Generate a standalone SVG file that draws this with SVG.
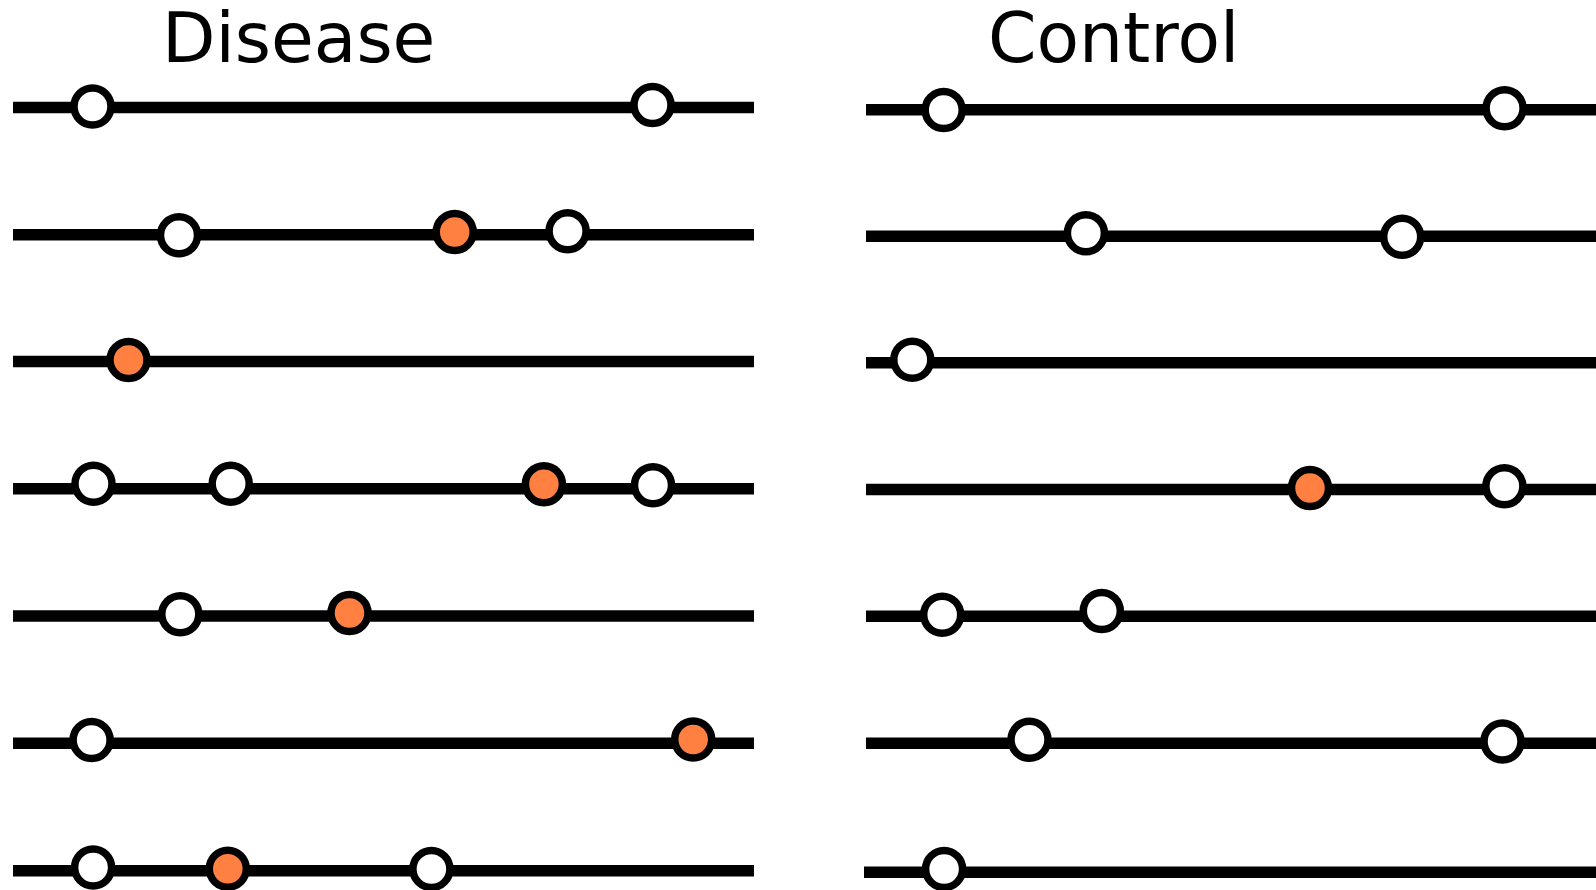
<svg xmlns="http://www.w3.org/2000/svg" width="1596" height="890" viewBox="0 0 1596 890">
  <style>
    .title { font-family: "DejaVu Sans", Verdana, sans-serif; font-size: 69.5px; fill: #000; }
    .strand { stroke: #000; stroke-width: 11.5; fill: none; }
    .site { stroke: #000; stroke-width: 7.5; fill: #fff; }
    .site.hit { fill: #FF8040; }
  </style>
  <rect width="1596" height="890" fill="#fff"/>

  <g id="title-disease"><text class="title" x="162" y="61.5">Disease</text></g>
  <g id="title-control"><text class="title" x="988" y="61.5">Control</text></g>

  <!-- sequence strands -->
  <g id="connectors">
    <line class="strand" x1="13" y1="107.5" x2="754" y2="107.5"/>
    <line class="strand" x1="13" y1="234.8" x2="754" y2="234.8"/>
    <line class="strand" x1="13" y1="361.5" x2="754" y2="361.5"/>
    <line class="strand" x1="13" y1="488.8" x2="754" y2="488.8"/>
    <line class="strand" x1="13" y1="616" x2="754" y2="616"/>
    <line class="strand" x1="13" y1="743.3" x2="754" y2="743.3"/>
    <line class="strand" x1="13" y1="870.8" x2="754" y2="870.8"/>

    <line class="strand" x1="866" y1="109.7" x2="1596" y2="109.7"/>
    <line class="strand" x1="866" y1="236.2" x2="1596" y2="236.2"/>
    <line class="strand" x1="866" y1="362.8" x2="1596" y2="362.8"/>
    <line class="strand" x1="866" y1="489.5" x2="1596" y2="489.5"/>
    <line class="strand" x1="866" y1="616.3" x2="1596" y2="616.3"/>
    <line class="strand" x1="866" y1="743.3" x2="1596" y2="743.3"/>
    <line class="strand" x1="864" y1="872.2" x2="1596" y2="872.2"/>
  </g>

  <!-- disease sites -->
  <g id="d1">
    <circle class="site" cx="92.5" cy="106.5" r="18.5"/>
    <circle class="site" cx="652.5" cy="105" r="18.5"/>
  </g>
  <g id="d2">
    <circle class="site" cx="179" cy="235.2" r="18.5"/>
    <circle class="site hit" cx="454.7" cy="232" r="18.5"/>
    <circle class="site" cx="567.6" cy="231.3" r="18.5"/>
  </g>
  <g id="d3">
    <circle class="site hit" cx="128.5" cy="360" r="18.5"/>
  </g>
  <g id="d4">
    <circle class="site" cx="93.5" cy="483.7" r="18.5"/>
    <circle class="site" cx="230.7" cy="483.7" r="18.5"/>
    <circle class="site hit" cx="543.9" cy="484.2" r="18.5"/>
    <circle class="site" cx="653" cy="485.2" r="18.5"/>
  </g>
  <g id="d5">
    <circle class="site" cx="180.3" cy="614.3" r="18.5"/>
    <circle class="site hit" cx="349.5" cy="613" r="18.5"/>
  </g>
  <g id="d6">
    <circle class="site" cx="91.6" cy="740" r="18.5"/>
    <circle class="site hit" cx="693.2" cy="739.5" r="18.5"/>
  </g>
  <g id="d7">
    <circle class="site" cx="93.1" cy="867.5" r="18.5"/>
    <circle class="site hit" cx="227.8" cy="868.7" r="18.5"/>
    <circle class="site" cx="431.4" cy="869" r="18.5"/>
  </g>

  <!-- control sites -->
  <g id="c1">
    <circle class="site" cx="943.7" cy="110" r="18.5"/>
    <circle class="site" cx="1504.6" cy="108.3" r="18.5"/>
  </g>
  <g id="c2">
    <circle class="site" cx="1085.9" cy="233.3" r="18.5"/>
    <circle class="site" cx="1402.2" cy="236.8" r="18.5"/>
  </g>
  <g id="c3">
    <circle class="site" cx="912.3" cy="359.7" r="18.5"/>
  </g>
  <g id="c4">
    <circle class="site hit" cx="1310" cy="488" r="18.5"/>
    <circle class="site" cx="1504.4" cy="486.3" r="18.5"/>
  </g>
  <g id="c5">
    <circle class="site" cx="942.2" cy="614.7" r="18.5"/>
    <circle class="site" cx="1101.8" cy="611" r="18.5"/>
  </g>
  <g id="c6">
    <circle class="site" cx="1029.5" cy="739.7" r="18.5"/>
    <circle class="site" cx="1502.5" cy="741.5" r="18.5"/>
  </g>
  <g id="c7">
    <circle class="site" cx="944.1" cy="869" r="18.5"/>
  </g>
</svg>
